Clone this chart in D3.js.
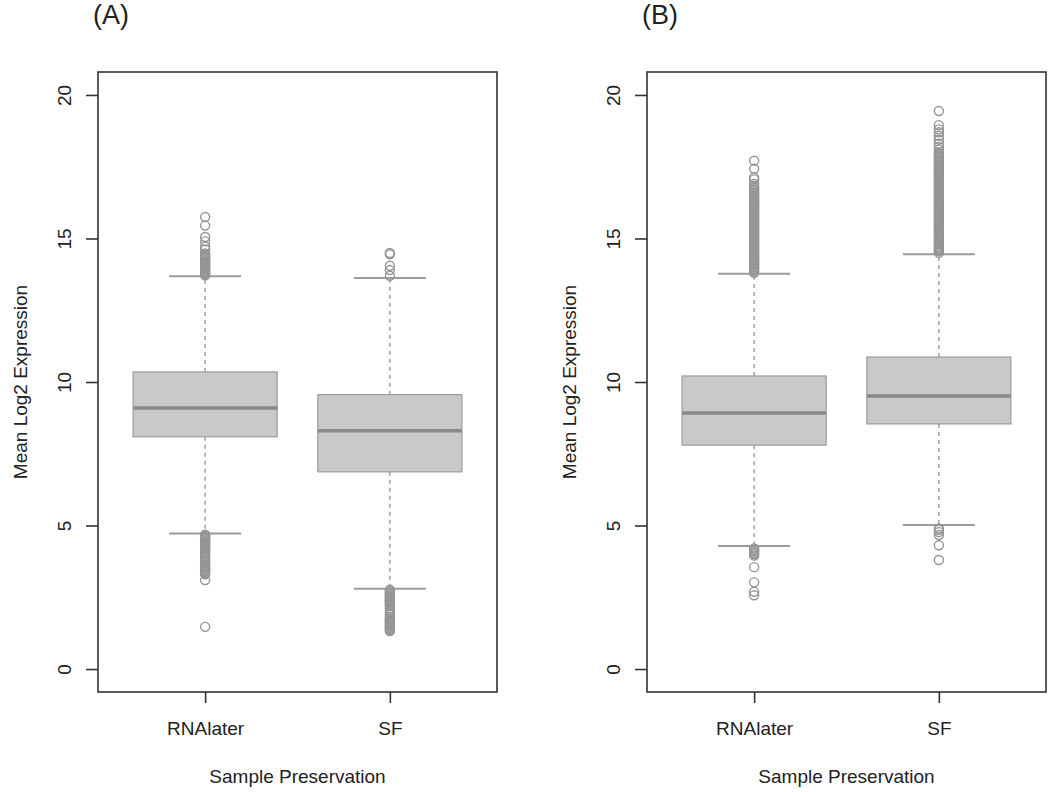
<!DOCTYPE html>
<html>
<head>
<meta charset="utf-8">
<script src="https://cdn.jsdelivr.net/npm/d3@7"></script>
<style>
  html, body { margin: 0; padding: 0; background: #fff; }
  svg text { font-family: "Liberation Sans", Arial, sans-serif; fill: #222; }
</style>
</head>
<body>
<svg id="chart" width="1050" height="792"></svg>
<script>
// ---------- DATA ----------
const panels = ["(A)", "(B)"];
const categories = ["RNAlater", "SF"];
const yTicks = [0, 5, 10, 15, 20];
const xTitle = "Sample Preservation";
const yTitle = "Mean Log2 Expression";

// box statistics: [lower whisker, Q1, median, Q3, upper whisker]
const statsA_RNAlater = [4.72, 8.09, 9.09, 10.35, 13.68];
const statsA_SF       = [2.80, 6.87, 8.30, 9.56, 13.62];
const statsB_RNAlater = [4.29, 7.80, 8.92, 10.21, 13.77];
const statsB_SF       = [5.02, 8.54, 9.51, 10.87, 14.45];

// outliers
const outA_RNAlater = [13.72, 13.76, 13.8, 13.84, 13.88, 13.92, 13.96, 14.0, 14.04, 14.08, 14.12, 14.16, 14.2, 14.24, 14.28,
  14.32, 14.36, 14.4, 14.44, 14.48, 14.62, 14.72, 14.9, 15.05, 15.45, 15.75,
  4.68, 4.64, 4.6, 4.56, 4.52, 4.48, 4.44, 4.4, 4.36, 4.32, 4.28, 4.24, 4.2, 4.16, 4.12, 4.08, 4.0, 3.92, 3.86, 3.8,
  3.74, 3.68, 3.62, 3.58, 3.54, 3.5, 3.46, 3.42, 3.38, 3.34, 3.3, 3.1, 1.47];
const outA_SF = [13.7, 13.9, 14.05, 14.45, 14.5,
  2.76, 2.72, 2.68, 2.64, 2.6, 2.56, 2.52, 2.48, 2.44, 2.4, 2.36, 2.32, 2.28, 2.24, 2.2, 2.12, 2.05, 1.96, 1.9, 1.82,
  1.76, 1.72, 1.68, 1.64, 1.6, 1.56, 1.52, 1.48, 1.44, 1.4, 1.36, 1.32];
const outB_RNAlater = [13.8, 13.85, 13.9, 13.95, 14.0, 14.05, 14.1, 14.15, 14.2, 14.25, 14.3, 14.35, 14.4, 14.45, 14.5,
  14.55, 14.6, 14.65, 14.7, 14.75, 14.8, 14.85, 14.9, 14.95, 15.0, 15.05, 15.1, 15.15, 15.2, 15.25, 15.3, 15.35,
  15.4, 15.45, 15.5, 15.55, 15.6, 15.65, 15.7, 15.75, 15.8, 15.85, 15.9, 15.95, 16.0, 16.05, 16.1, 16.15, 16.2,
  16.25, 16.3, 16.35, 16.4, 16.45, 16.5, 16.55, 16.6, 16.65, 16.7, 16.75, 16.8, 16.9, 17.06, 17.13, 17.43, 17.71,
  4.2, 4.15, 4.1, 4.05, 4.0, 3.95, 3.55, 3.02, 2.69, 2.57];
const outB_SF = [14.5, 14.55, 14.6, 14.65, 14.7, 14.75, 14.8, 14.85, 14.9, 14.95, 15.0, 15.05, 15.1, 15.15, 15.2,
  15.25, 15.3, 15.35, 15.4, 15.45, 15.5, 15.55, 15.6, 15.65, 15.7, 15.75, 15.8, 15.85, 15.9, 15.95, 16.0, 16.05,
  16.1, 16.15, 16.2, 16.25, 16.3, 16.35, 16.4, 16.45, 16.5, 16.55, 16.6, 16.65, 16.7, 16.75, 16.8, 16.85, 16.9,
  16.95, 17.0, 17.05, 17.1, 17.15, 17.2, 17.25, 17.3, 17.35, 17.4, 17.45, 17.5, 17.55, 17.6, 17.65, 17.7, 17.75,
  17.8, 17.85, 17.9, 17.95, 18.0, 18.1, 18.2, 18.3, 18.45, 18.58, 18.7, 18.8, 18.95, 19.44,
  4.9, 4.85, 4.77, 4.67, 4.31, 3.80];

const panelData = [
  { label: panels[0], stats: [statsA_RNAlater, statsA_SF], outliers: [outA_RNAlater, outA_SF] },
  { label: panels[1], stats: [statsB_RNAlater, statsB_SF], outliers: [outB_RNAlater, outB_SF] }
];

// ---------- DRAW ----------
(function () {
const svg = d3.select("#chart");
const frameLefts = [98, 647];
const frameW = 399;
const plotTop = 72, plotBottom = 692;
const y = d3.scaleLinear().domain([-0.8, 20.8]).range([plotBottom, plotTop]);

const boxFill = "#c9c9c9", boxStroke = "#9c9c9c", medCol = "#8a8a8a", whiskCol = "#a2a2a2", ptCol = "#959595";

panelData.forEach((p, pi) => {
  const left = frameLefts[pi];
  const x = d3.scaleLinear().domain([0.42, 2.58]).range([left, left + frameW]);
  const g = svg.append("g");
  const bw = (x(1.39) - x(1)); // half-width of box

  // panel label
  svg.append("text").attr("x", left - 5).attr("y", 24)
    .style("font-size", "27px").text(p.label);

  p.stats.forEach((s, i) => {
    const cx = x(i + 1);
    const [lw, q1, med, q3, uw] = s;
    // whiskers
    g.append("line").attr("x1", cx).attr("x2", cx).attr("y1", y(q3)).attr("y2", y(uw))
      .attr("stroke", whiskCol).attr("stroke-width", 1.5).attr("stroke-dasharray", "4,4");
    g.append("line").attr("x1", cx).attr("x2", cx).attr("y1", y(q1)).attr("y2", y(lw))
      .attr("stroke", whiskCol).attr("stroke-width", 1.5).attr("stroke-dasharray", "4,4");
    // staples
    [lw, uw].forEach(v => {
      g.append("line").attr("x1", cx - bw / 2).attr("x2", cx + bw / 2).attr("y1", y(v)).attr("y2", y(v))
        .attr("stroke", boxStroke).attr("stroke-width", 2);
    });
    // outliers
    g.selectAll(null).data(p.outliers[i]).enter().append("circle")
      .attr("cx", cx).attr("cy", d => y(d)).attr("r", 4.5)
      .attr("fill", "none").attr("stroke", ptCol).attr("stroke-width", 1.4);
    // box
    g.append("rect").attr("x", cx - bw).attr("width", 2 * bw)
      .attr("y", y(q3)).attr("height", y(q1) - y(q3))
      .attr("fill", boxFill).attr("stroke", boxStroke).attr("stroke-width", 1.2);
    // median
    g.append("line").attr("x1", cx - bw).attr("x2", cx + bw).attr("y1", y(med)).attr("y2", y(med))
      .attr("stroke", medCol).attr("stroke-width", 3.5);
  });

  // frame
  svg.append("rect").attr("x", left).attr("y", plotTop).attr("width", frameW).attr("height", plotBottom - plotTop)
    .attr("fill", "none").attr("stroke", "#333").attr("stroke-width", 1.6);

  // y axis
  const yAxis = d3.axisLeft(y).tickValues(yTicks).tickSize(12).tickFormat(d3.format("d"));
  const ya = svg.append("g").attr("transform", `translate(${left},0)`).call(yAxis);
  ya.select(".domain").remove();
  ya.selectAll(".tick line").attr("stroke", "#333").attr("stroke-width", 1.6);
  ya.selectAll(".tick text").attr("x", null).attr("dy", null)
    .attr("transform", `translate(${-34},0) rotate(-90)`)
    .attr("text-anchor", "middle").attr("dy", "0.35em")
    .style("font-size", "19px").style("font-family", "Liberation Sans, Arial, sans-serif").attr("fill", "#222");

  // x axis
  const xAxis = d3.axisBottom(x).tickValues([1, 2]).tickSize(11).tickPadding(19)
    .tickFormat((d) => categories[d - 1]);
  const xa = svg.append("g").attr("transform", `translate(0,${plotBottom})`).call(xAxis);
  xa.select(".domain").remove();
  xa.selectAll(".tick line").attr("stroke", "#333").attr("stroke-width", 1.6);
  xa.selectAll(".tick text").style("font-size", "19px")
    .style("font-family", "Liberation Sans, Arial, sans-serif").attr("fill", "#222");

  // titles
  svg.append("text").attr("x", left + frameW / 2).attr("y", 783).attr("text-anchor", "middle")
    .style("font-size", "19px").text(xTitle);
  svg.append("text").attr("transform", `translate(${left - 78},${y(10)}) rotate(-90)`)
    .attr("text-anchor", "middle").attr("dy", "0.35em")
    .style("font-size", "19px").text(yTitle);
});
})();
</script>
</body>
</html>
